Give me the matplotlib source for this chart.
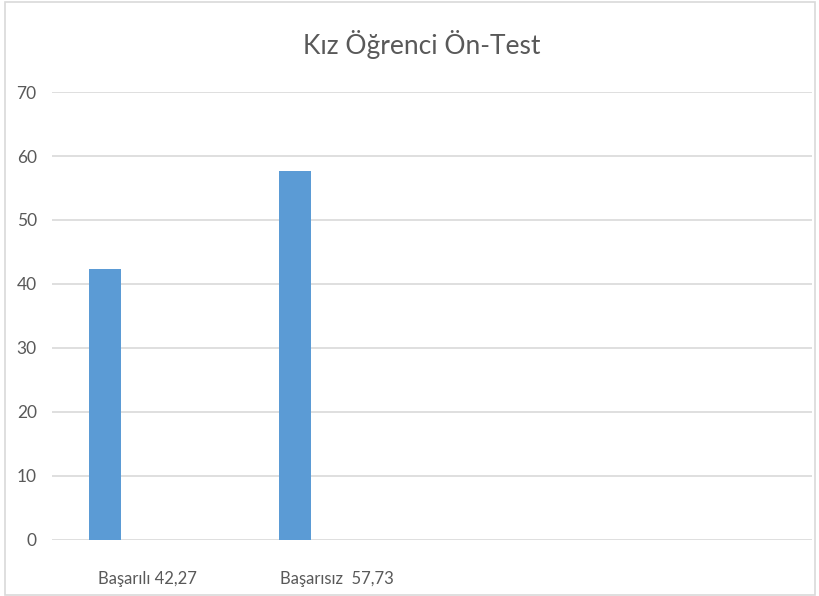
import matplotlib
matplotlib.use("Agg")
import matplotlib.pyplot as plt
from matplotlib.patches import Rectangle

categories = ["Başarılı 42,27", "Başarısız  57,73", "", ""]
values = [42.27, 57.73, 0, 0]
y_ticks = [0, 10, 20, 30, 40, 50, 60, 70]
title = "Kız Öğrenci Ön-Test"

plt.rcParams["font.family"] = ["Lato", "DejaVu Sans"]

W, H = 819, 596
fig = plt.figure(figsize=(W / 100, H / 100), dpi=100)
ax = fig.add_axes([52 / W, 56 / H, 760 / W, 448 / H])

x = list(range(len(categories)))
bar_x = [i - 0.22 for i in x]
ax.bar(bar_x[:2], values[:2], width=0.168, color="#5b9bd5", zorder=3)

ax.set_xlim(-0.5, len(categories) - 0.5)
ax.set_ylim(0, 70)
ax.set_yticks(y_ticks)
ax.set_xticks(x)
ax.set_xticklabels(categories)
ax.grid(axis="y", color="#d9d9d9", linewidth=1.2, zorder=0)
for s in ax.spines.values():
    s.set_visible(False)
ax.tick_params(length=0, labelsize=12.5, colors="#595959")
ax.tick_params(axis="y", pad=11)
ax.tick_params(axis="x", pad=22, labelsize=12)

fig.text(0.515, 0.925, title, ha="center", va="center", fontsize=19, color="#595959")

fig.patches.append(Rectangle((5 / W, 1 / H), 810 / W, 593 / H, transform=fig.transFigure,
                             fill=False, edgecolor="#d9d9d9", linewidth=1.2))

fig.savefig("out.png", dpi=100)
